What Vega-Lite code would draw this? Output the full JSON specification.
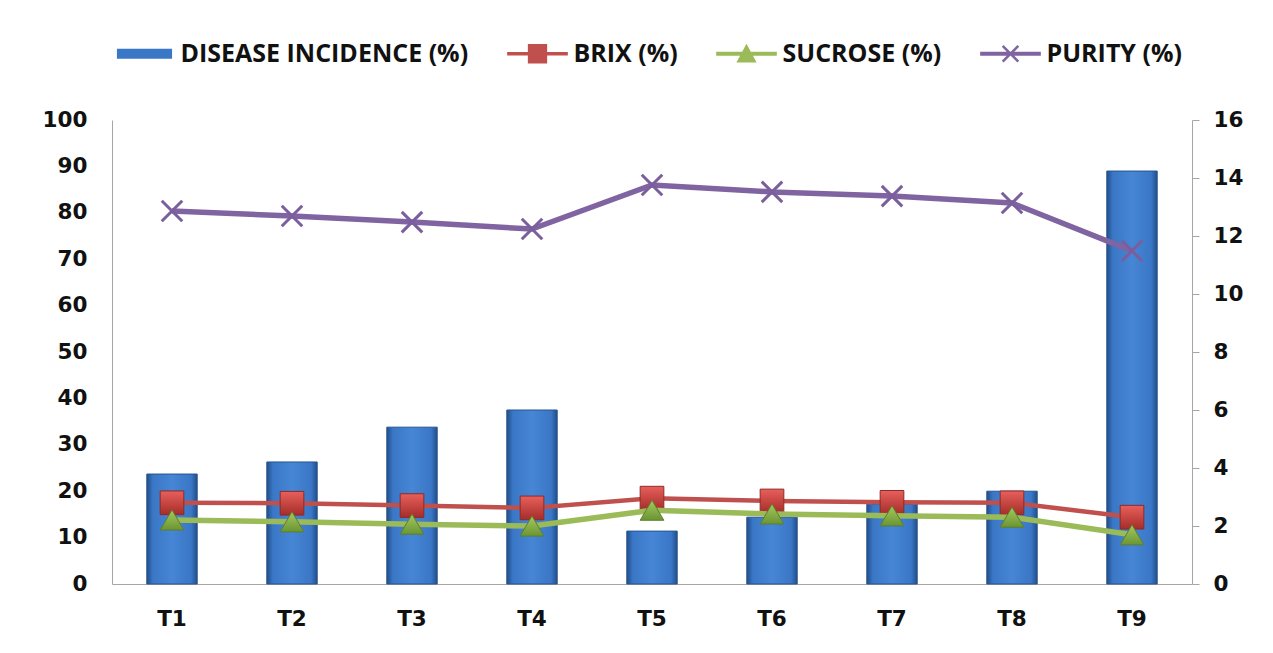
{
  "$schema": "https://vega.github.io/schema/vega-lite/v6.json",
  "width": 1080,
  "height": 464,
  "autosize": "none",
  "padding": {"left": 112, "top": 120, "right": 81, "bottom": 69},
  "background": "white",
  "config": {
    "view": {"stroke": null},
    "axis": {"grid": false, "labelFont": "DejaVu Sans", "labelFontWeight": "bold", "labelFontSize": 21.5, "labelColor": "#111111", "domainColor": "#a6a6a6", "tickColor": "#a6a6a6"}
  },
  "data": {
    "values": [
      {"t": "T1", "disease": 23.7, "brix": 17.5, "sucrose": 13.8, "purity": 80.4},
      {"t": "T2", "disease": 26.3, "brix": 17.4, "sucrose": 13.4, "purity": 79.3},
      {"t": "T3", "disease": 33.8, "brix": 16.9, "sucrose": 12.9, "purity": 78.0},
      {"t": "T4", "disease": 37.5, "brix": 16.4, "sucrose": 12.5, "purity": 76.5},
      {"t": "T5", "disease": 11.4, "brix": 18.5, "sucrose": 15.9, "purity": 86.0},
      {"t": "T6", "disease": 14.4, "brix": 17.9, "sucrose": 15.1, "purity": 84.5},
      {"t": "T7", "disease": 17.2, "brix": 17.6, "sucrose": 14.7, "purity": 83.6},
      {"t": "T8", "disease": 20.0, "brix": 17.5, "sucrose": 14.4, "purity": 82.1},
      {"t": "T9", "disease": 89.0, "brix": 14.4, "sucrose": 10.6, "purity": 71.8}
    ]
  },
  "layer": [
    {
      "layer": [
        {
          "mark": {
            "type": "bar",
            "width": {"band": 0.42},
            "stroke": "#27548f",
            "strokeWidth": 1,
            "color": {"gradient": "linear", "x1": 0, "x2": 1, "y1": 0, "y2": 0,
              "stops": [
                {"offset": 0, "color": "#224d88"},
                {"offset": 0.12, "color": "#3a77c6"},
                {"offset": 0.5, "color": "#4686d4"},
                {"offset": 0.88, "color": "#3a77c6"},
                {"offset": 1, "color": "#224d88"}
              ]}
          },
          "encoding": {
            "x": {"field": "t", "type": "nominal", "scale": {"paddingInner": 0, "paddingOuter": 0},
              "axis": {"title": null, "labelAngle": 0, "ticks": false, "labelPadding": 24}},
            "y": {"field": "disease", "type": "quantitative", "scale": {"domain": [0, 100]},
              "axis": {"title": null, "values": [0, 10, 20, 30, 40, 50, 60, 70, 80, 90, 100], "ticks": false, "labelPadding": 25}}
          }
        },
        {
          "mark": {"type": "line", "stroke": "#c0504d", "strokeWidth": 4.5},
          "encoding": {"x": {"field": "t", "type": "nominal"}, "y": {"field": "brix", "type": "quantitative"}}
        },
        {
          "mark": {"type": "point", "shape": "square", "size": 560, "filled": true, "opacity": 1, "stroke": "#8e2a27", "strokeWidth": 1,
            "fill": {"gradient": "linear", "x1": 0, "x2": 0, "y1": 0, "y2": 1,
              "stops": [{"offset": 0, "color": "#e8605b"}, {"offset": 1, "color": "#a52d2a"}]}},
          "encoding": {"x": {"field": "t", "type": "nominal"}, "y": {"field": "brix", "type": "quantitative"}}
        },
        {
          "mark": {"type": "line", "stroke": "#9bbb59", "strokeWidth": 5.5},
          "encoding": {"x": {"field": "t", "type": "nominal"}, "y": {"field": "sucrose", "type": "quantitative"}}
        },
        {
          "mark": {"type": "point", "shape": "M0,-0.85L1,0.85H-1Z", "size": 560, "filled": true, "opacity": 1, "stroke": "#5d7f2c", "strokeWidth": 1,
            "fill": {"gradient": "linear", "x1": 0, "x2": 0, "y1": 0, "y2": 1,
              "stops": [{"offset": 0, "color": "#a6c95f"}, {"offset": 1, "color": "#6a9533"}]}},
          "encoding": {"x": {"field": "t", "type": "nominal"}, "y": {"field": "sucrose", "type": "quantitative"}}
        },
        {
          "mark": {"type": "line", "stroke": "#8064a2", "strokeWidth": 5.5},
          "encoding": {"x": {"field": "t", "type": "nominal"}, "y": {"field": "purity", "type": "quantitative"}}
        },
        {
          "mark": {"type": "point", "shape": "M-1,-1L1,1M-1,1L1,-1", "size": 420, "filled": false, "opacity": 1, "stroke": "#7a5e9e", "strokeWidth": 3},
          "encoding": {"x": {"field": "t", "type": "nominal"}, "y": {"field": "purity", "type": "quantitative"}}
        },
        {
          "transform": [
            {"fold": ["disease", "brix", "sucrose", "purity"], "as": ["key", "val"]},
            {"filter": "datum.val < -1"}
          ],
          "mark": {"type": "point", "filled": true, "opacity": 1},
          "encoding": {
            "x": {"field": "t", "type": "nominal"},
            "y": {"field": "val", "type": "quantitative"},
            "color": {
              "field": "key", "type": "nominal",
              "scale": {"domain": ["disease", "brix", "sucrose", "purity"], "range": ["#3a77c6", "#c0504d", "#9bbb59", "#8064a2"]},
              "legend": {
                "title": null, "orient": "top", "direction": "horizontal", "offset": 33, "padding": 20,
                "labelFont": "Open Sans", "labelFontWeight": "bold", "labelFontSize": 25, "labelColor": "#111111", "labelLimit": 500,
                "symbolSize": 338, "symbolStrokeWidth": 0, "symbolOpacity": 1,
                "labelOffset": 23.5, "columnPadding": 38,
                "labelExpr": "datum.label == 'disease' ? 'DISEASE INCIDENCE (%)' : datum.label == 'brix' ? 'BRIX (%)' : datum.label == 'sucrose' ? 'SUCROSE (%)' : 'PURITY (%)'"
              }
            },
            "shape": {
              "field": "key", "type": "nominal",
              "scale": {"domain": ["disease", "brix", "sucrose", "purity"],
                "range": [
                  "M-3,-0.55H3V0.55H-3Z",
                  "M-3.3,-0.2H3.3V0.2H-3.3ZM-1.05,-1.05H1.05V1.05H-1.05Z",
                  "M-3.3,-0.22H3.3V0.22H-3.3ZM0,-1.1L1.1,0.95H-1.1Z",
                  "M-3.3,-0.22H3.3V0.22H-3.3ZM-0.95,-0.75L-0.75,-0.95L0,-0.2L0.75,-0.95L0.95,-0.75L0.2,0L0.95,0.75L0.75,0.95L0,0.2L-0.75,0.95L-0.95,0.75L-0.2,0Z"
                ]}
            }
          }
        }
      ]
    },
    {
      "mark": {"type": "point", "opacity": 0},
      "encoding": {
        "y": {"datum": 0, "type": "quantitative", "scale": {"domain": [0, 16]},
          "axis": {"orient": "right", "title": null, "values": [0, 2, 4, 6, 8, 10, 12, 14, 16], "tickSize": 7, "labelPadding": 14}}
      }
    }
  ],
  "resolve": {"scale": {"y": "independent"}}
}
